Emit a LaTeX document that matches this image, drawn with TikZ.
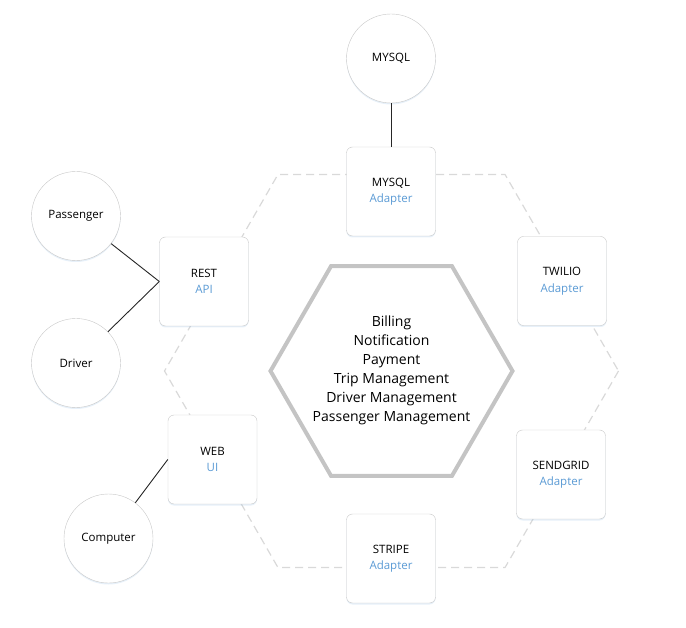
\documentclass[tikz,border=0pt]{standalone}
\usepackage{fontspec}
\setmainfont{Open Sans}
\usetikzlibrary{shadows}

\definecolor{boxgray}{HTML}{C8C8C8}
\definecolor{hexgray}{HTML}{C4C4C4}
\definecolor{dashgray}{HTML}{D9D9D9}
\definecolor{portblue}{HTML}{5B9BD5}

\tikzset{
    portbox/.style={draw=boxgray, fill=white, rounded corners=6pt,
        minimum width=89pt, minimum height=89pt, align=center,
        font=\fontsize{11.5}{16.5}\selectfont,
        drop shadow={shadow xshift=0pt, shadow yshift=-1.5pt, fill=portblue, opacity=0.15}},
    actor/.style={draw=boxgray, fill=white, circle, minimum size=89pt,
        font=\fontsize{11.5}{16.5}\selectfont,
        drop shadow={shadow xshift=0pt, shadow yshift=-1.5pt, fill=portblue, opacity=0.15}},
    link/.style={draw=black!85, line width=0.9pt}
}

\newcommand{\port}[2]{#1\\\textcolor{portblue}{#2}}

\begin{document}
\begin{tikzpicture}[x=1pt, y=-1pt]
    \useasboundingbox (0, 0) rectangle (686, 628);

    % outer and inner hexagon
    \begin{scope}[shift={(391.5, 371)}]
        \draw[dashgray, line width=1.2pt, dash pattern=on 8pt off 5pt]
            (0:227) \foreach \a in {60, 120, ..., 300} { -- (\a:227) } -- cycle;
        \draw[hexgray, line width=4pt, line join=miter]
            (0:121) \foreach \a in {60, 120, ..., 300} { -- (\a:121) } -- cycle;
    \end{scope}
    \node[align=center, font=\fontsize{14}{19}\selectfont] (core) at (391.5, 370)
        {Billing\\Notification\\Payment\\Trip Management\\Driver Management\\Passenger Management};

    % adapters
    \foreach \name/\x/\y/\top/\bottom in {
        mysqlad/391/191.5/MYSQL/Adapter,
        rest/204/281.5/REST/API,
        twilio/562/281/TWILIO/Adapter,
        sendgrid/561/474.5/SENDGRID/Adapter,
        web/212.5/459.5/WEB/UI,
        stripe/391/558.5/STRIPE/Adapter} {
        \node[portbox] (\name) at (\x, \y) {\port{\top}{\bottom}};
    }

    % actors
    \node[actor] (mysql) at (391, 58.5) {MYSQL};
    \node[actor] (passenger) at (76, 216) {Passenger};
    \node[actor] (driver) at (76, 363) {Driver};
    \node[actor] (computer) at (108.5, 538.5) {Computer};

    \draw[link] (mysql) -- (mysqlad);
    \draw[link] (passenger) -- (rest.west);
    \draw[link] (driver) -- (rest.west);
    \draw[link] (computer) -- (web.west);
\end{tikzpicture}
\end{document}
